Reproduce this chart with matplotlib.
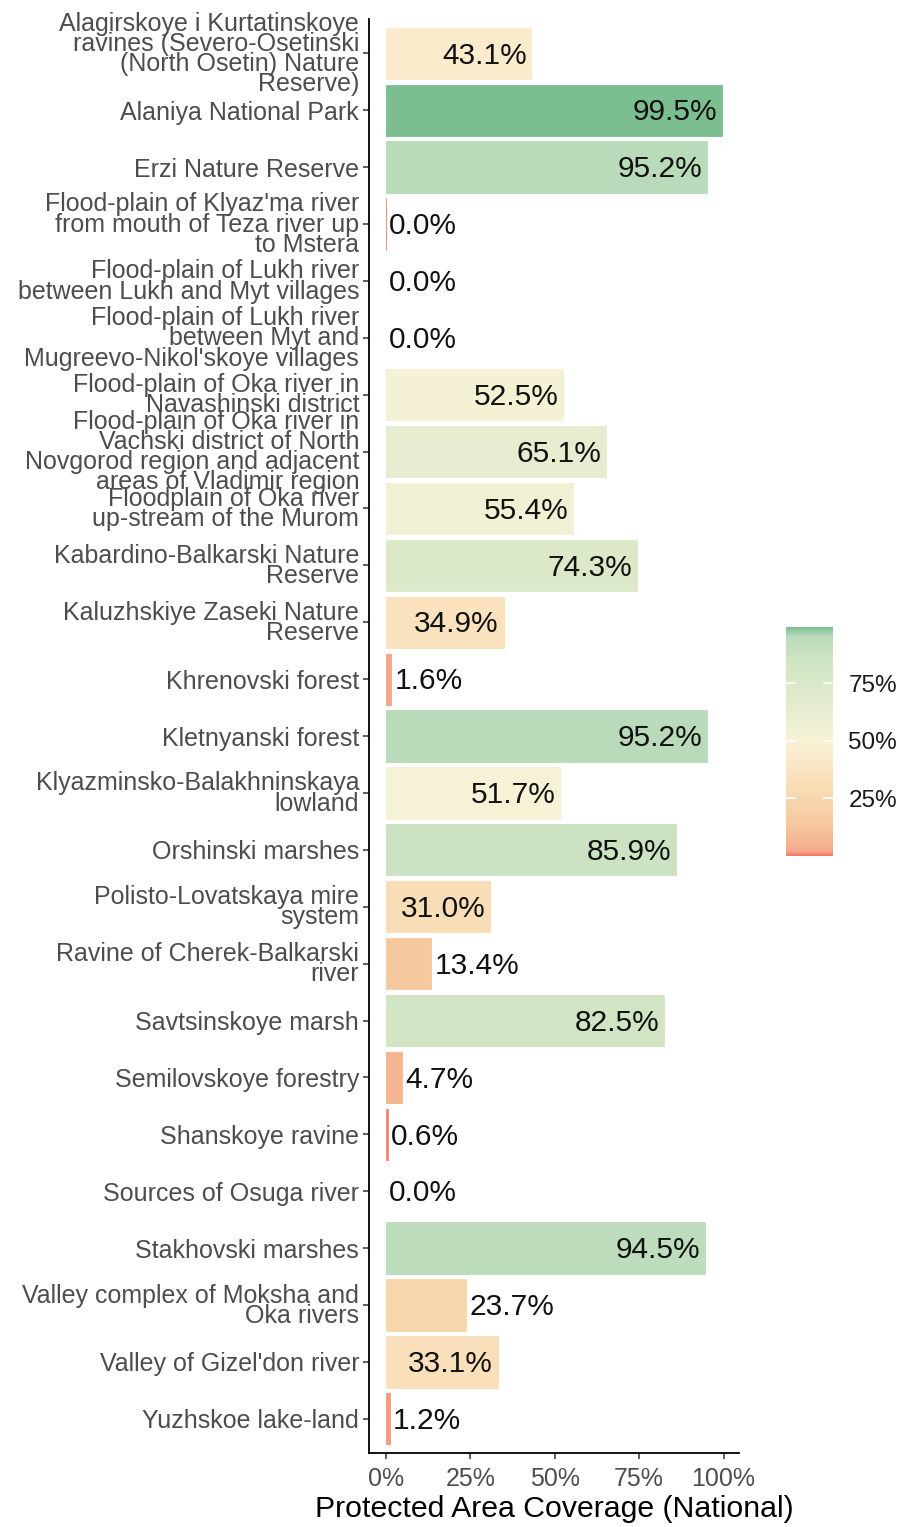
import numpy as np
import matplotlib
matplotlib.use("Agg")
import matplotlib.pyplot as plt
from matplotlib.colors import LinearSegmentedColormap, Normalize

plt.rcParams['font.family'] = ['Liberation Sans', 'DejaVu Sans']

# protected areas, top to bottom
sites = [
    "Alagirskoye i Kurtatinskoye\nravines (Severo-Osetinski\n(North Osetin) Nature\nReserve)",
    "Alaniya National Park",
    "Erzi Nature Reserve",
    "Flood-plain of Klyaz'ma river\nfrom mouth of Teza river up\nto Mstera",
    "Flood-plain of Lukh river\nbetween Lukh and Myt villages",
    "Flood-plain of Lukh river\nbetween Myt and\nMugreevo-Nikol'skoye villages",
    "Flood-plain of Oka river in\nNavashinski district",
    "Flood-plain of Oka river in\nVachski district of North\nNovgorod region and adjacent\nareas of Vladimir region",
    "Floodplain of Oka river\nup-stream of the Murom",
    "Kabardino-Balkarski Nature\nReserve",
    "Kaluzhskiye Zaseki Nature\nReserve",
    "Khrenovski forest",
    "Kletnyanski forest",
    "Klyazminsko-Balakhninskaya\nlowland",
    "Orshinski marshes",
    "Polisto-Lovatskaya mire\nsystem",
    "Ravine of Cherek-Balkarski\nriver",
    "Savtsinskoye marsh",
    "Semilovskoye forestry",
    "Shanskoye ravine",
    "Sources of Osuga river",
    "Stakhovski marshes",
    "Valley complex of Moksha and\nOka rivers",
    "Valley of Gizel'don river",
    "Yuzhskoe lake-land",
]
coverage = [43.1, 99.5, 95.2, 0.04, 0.0, 0.0, 52.5, 65.1, 55.4, 74.3, 34.9, 1.6,
            95.2, 51.7, 85.9, 31.0, 13.4, 82.5, 4.7, 0.6, 0.0, 94.5, 23.7, 33.1, 1.2]
x_ticks = [0, 25, 50, 75, 100]
legend_ticks = [25, 50, 75]

vmax = max(coverage)
stops = [(0.0, '#f47b6b'), (0.016, '#f6a487'), (0.047, '#f5b590'), (0.134, '#f5c89e'),
         (0.25, '#f7d8ae'), (0.35, '#f9e2bd'), (0.43, '#f9ebcc'), (0.50, '#f9f2d6'),
         (0.55, '#f1f1d4'), (0.65, '#e5ecd0'), (0.75, '#dbe9c9'), (0.86, '#cde4c4'),
         (0.955, '#bcdcbb'), (1.0, '#7bbe90')]
cmap = LinearSegmentedColormap.from_list('cover', stops)
norm = Normalize(0, vmax)

fig = plt.figure(figsize=(9.02, 15.27), dpi=100)
ax = fig.add_axes([0.409, 0.0485, 0.410, 0.939])

y = np.arange(len(sites))
cols = [cmap(norm(v)) for v in coverage]
edges = [c if v > 0 else 'none' for c, v in zip(cols, coverage)]
ax.barh(y, coverage, height=0.9, color=cols, edgecolor=edges, linewidth=0.6)

for yi, v in zip(y, coverage):
    lab = f"{v:.1f}%"
    if v >= 30:
        ax.text(v - 1.4, yi + 0.04, lab, ha='right', va='center', fontsize=21.5, color='#111111')
    else:
        ax.text(v + 1.0, yi + 0.04, lab, ha='left', va='center', fontsize=21.5, color='#111111')

ax.set_ylim(len(sites) - 0.4, -0.6)
ax.set_xlim(-4.975, 104.475)
ax.set_yticks(y)
ax.set_yticklabels(sites, fontsize=18, color='#4d4d4d', linespacing=0.8)
ax.set_xticks(x_ticks)
ax.set_xticklabels([f"{t}%" for t in x_ticks], fontsize=18, color='#4d4d4d')
ax.tick_params(axis='both', length=4, width=1.1, color='#333333', pad=3)
ax.tick_params(axis='x', pad=6)
ax.set_xlabel("Protected Area Coverage (National)", fontsize=21.8, color='black', labelpad=3)
for s in ['top', 'right']:
    ax.spines[s].set_visible(False)
for s in ['left', 'bottom']:
    ax.spines[s].set_linewidth(1.3)
    ax.spines[s].set_color('black')

# colour legend
cax = fig.add_axes([0.8714, 0.4394, 0.0521, 0.150])
grad = np.linspace(0, vmax, 400).reshape(-1, 1)
cax.imshow(grad, aspect='auto', cmap=cmap, norm=norm, origin='lower',
           extent=[0, 1, 0, vmax])
for t in legend_ticks:
    cax.plot([0, 0.2], [t, t], color='white', lw=1.2)
    cax.plot([0.8, 1], [t, t], color='white', lw=1.2)
cax.set_xlim(0, 1)
cax.set_ylim(0, vmax)
cax.set_xticks([])
cax.yaxis.tick_right()
cax.set_yticks(legend_ticks)
cax.set_yticklabels([f"{t}%" for t in legend_ticks], fontsize=17.5, color='#1a1a1a')
cax.tick_params(axis='y', length=0, pad=11)
for s in cax.spines.values():
    s.set_visible(False)

fig.savefig("out.png", dpi=100)
